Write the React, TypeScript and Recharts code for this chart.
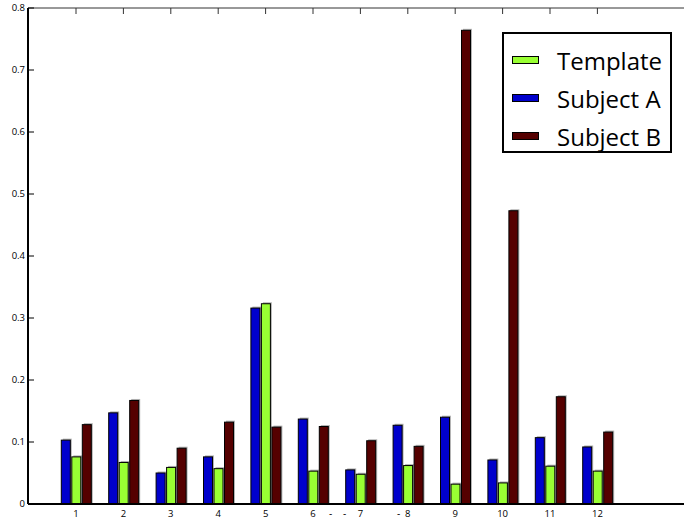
import React from "react";
import { BarChart, Bar, XAxis, YAxis } from "recharts";

const GROUPS = ["1", "2", "3", "4", "5", "6", "7", "8", "9", "10", "11", "12"];
const SUBJECT_A = [0.103, 0.147, 0.05, 0.076, 0.316, 0.137, 0.055, 0.127, 0.14, 0.071, 0.107, 0.092];
const TEMPLATE = [0.076, 0.067, 0.059, 0.057, 0.323, 0.053, 0.048, 0.062, 0.032, 0.034, 0.061, 0.053];
const SUBJECT_B = [0.128, 0.167, 0.09, 0.132, 0.124, 0.125, 0.102, 0.093, 0.764, 0.473, 0.173, 0.116];
const Y_TICKS = [0, 0.1, 0.2, 0.3, 0.4, 0.5, 0.6, 0.7, 0.8];

const BLUE = "#0000cc";
const GREEN = "#99ff33";
const MAROON = "#550000";
const FONT = "'Open Sans', 'DejaVu Sans', sans-serif";

const data = GROUPS.map((g, i) => ({
  group: g,
  subjectA: SUBJECT_A[i],
  template: TEMPLATE[i],
  subjectB: SUBJECT_B[i],
}));

// bar with a soft grey drop shadow and black edge
function ShadowBar(props: any) {
  const { x, y, width, height, fill } = props;
  if (!height || height <= 0) return null;
  return (
    <g>
      <rect x={x + 1.5} y={y - 1.5} width={width} height={height + 1.5} fill="#b4b4b4" />
      <rect x={x} y={y} width={width} height={height} fill={fill} stroke="#000" strokeWidth={1} />
    </g>
  );
}

function YTick({ x, y, payload }: any) {
  const v = payload.value as number;
  return (
    <g>
      <line x1={x} y1={y} x2={x + 6} y2={y} stroke="#000" strokeWidth={1} />
      <text x={x - 3} y={y + 3} textAnchor="end" fontSize={9.5} fill="#000" fontFamily={FONT}>
        {v === 0 ? "0" : v.toFixed(1)}
      </text>
    </g>
  );
}

function XTick({ x, y, payload }: any) {
  return (
    <text x={x} y={y + 13} textAnchor="middle" fontSize={9.5} fill="#000" fontFamily={FONT}>
      {payload.value}
    </text>
  );
}

function TopTick({ x, y }: any) {
  return <line x1={x} y1={y} x2={x} y2={y + 6} stroke="#333" strokeWidth={1} />;
}

const LEGEND = [
  { label: "Template", color: GREEN },
  { label: "Subject A", color: BLUE },
  { label: "Subject B", color: MAROON },
];

export default function App() {
  return (
    <div style={{ position: "relative", width: 684, height: 520, overflow: "hidden", background: "#fff" }}>
      <style>{"body{margin:0}"}</style>
      <BarChart
        width={700}
        height={520}
        data={data}
        margin={{ top: 7, right: 8, left: 0, bottom: 0 }}
        barSize={9}
        barGap={1.5}
      >
        <XAxis
          dataKey="group"
          xAxisId="bottom"
          height={16}
          padding={{ left: 24.3, right: 70.9 }}
          axisLine={{ stroke: "#000", strokeWidth: 2 }}
          tickLine={false}
          tickSize={0}
          tickMargin={0}
          tick={<XTick />}
          interval={0}
        />
        <XAxis
          dataKey="group"
          xAxisId="top"
          orientation="top"
          height={1}
          padding={{ left: 24.3, right: 70.9 }}
          axisLine={{ stroke: "#333", strokeWidth: 1 }}
          tickLine={false}
          tickSize={0}
          tickMargin={0}
          tick={<TopTick />}
          interval={0}
        />
        <YAxis
          width={28}
          domain={[0, 0.8]}
          ticks={Y_TICKS}
          allowDataOverflow
          axisLine={{ stroke: "#000", strokeWidth: 2 }}
          tickLine={false}
          tickSize={0}
          tickMargin={0}
          tick={<YTick />}
          interval={0}
        />
        <Bar xAxisId="bottom" dataKey="subjectA" fill={BLUE} shape={<ShadowBar />} isAnimationActive={false} />
        <Bar xAxisId="bottom" dataKey="template" fill={GREEN} shape={<ShadowBar />} isAnimationActive={false} />
        <Bar xAxisId="bottom" dataKey="subjectB" fill={MAROON} shape={<ShadowBar />} isAnimationActive={false} />
      </BarChart>

      {/* stray dashes under the axis, as in the original */}
      {[329, 343, 397].map((left) => (
        <div
          key={left}
          style={{ position: "absolute", left, top: 507, fontSize: 10, fontFamily: FONT, lineHeight: "12px" }}
        >
          -
        </div>
      ))}

      <div
        style={{
          position: "absolute",
          left: 502,
          top: 32,
          width: 170,
          height: 121,
          boxSizing: "border-box",
          border: "2px solid #000",
          background: "#fff",
          fontFamily: FONT,
        }}
      >
        {LEGEND.map((item, i) => (
          <div
            key={item.label}
            style={{ position: "absolute", left: 0, top: 8 + i * 38, height: 36, display: "flex", alignItems: "center" }}
          >
            <div
              style={{
                marginLeft: 8,
                width: 27,
                height: 8,
                background: item.color,
                border: "1px solid #000",
                boxSizing: "border-box",
              }}
            />
            <span style={{ marginLeft: 18, fontSize: 24, color: "#000", whiteSpace: "nowrap" }}>{item.label}</span>
          </div>
        ))}
      </div>
    </div>
  );
}
